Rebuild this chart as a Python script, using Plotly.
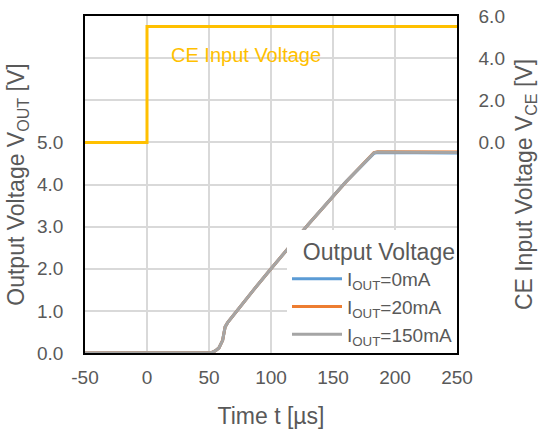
import plotly.graph_objects as go

# ---- data ----
t_out = [-50, 50, 52, 55, 58, 61, 63, 65, 75, 86, 100, 130, 160, 183, 186, 200, 250]
v_0mA = [0, 0, 0.01, 0.05, 0.12, 0.3, 0.62, 0.72, 1.1, 1.5, 2.0, 3.05, 4.05, 4.74, 4.76, 4.76, 4.75]
v_20mA = [0, 0, 0.01, 0.05, 0.12, 0.3, 0.62, 0.72, 1.1, 1.5, 2.0, 3.05, 4.05, 4.76, 4.78, 4.78, 4.77]
v_150mA = [0, 0, 0.01, 0.05, 0.12, 0.3, 0.62, 0.72, 1.1, 1.5, 2.0, 3.05, 4.05, 4.75, 4.77, 4.77, 4.76]
t_ce = [-50, 0, 0, 250]
v_ce = [0, 0, 5.5, 5.5]

x_ticks = [-50, 0, 50, 100, 150, 200, 250]
x_ticktext = ["-50", "0", "50", "100", "150", "200", "250"]
y_ticks = [0, 1, 2, 3, 4, 5, 6, 7, 8]
y_ticktext = ["0.0", "1.0", "2.0", "3.0", "4.0", "5.0", "", "", ""]
y2_ticks = [0, 2, 4, 6]
y2_ticktext = ["0.0", "2.0", "4.0", "6.0"]

FONT = "Liberation Sans, Arial, sans-serif"
GRAY = "#595959"

fig = go.Figure()
fig.add_trace(go.Scatter(x=t_ce, y=v_ce, yaxis="y2", mode="lines",
                         line=dict(color="#FFC000", width=3), showlegend=False,
                         name="CE Input Voltage"))
fig.add_trace(go.Scatter(x=t_out, y=v_0mA, mode="lines", name="I<sub>OUT</sub>=0mA",
                         line=dict(color="#5B9BD5", width=3)))
fig.add_trace(go.Scatter(x=t_out, y=v_20mA, mode="lines", name="I<sub>OUT</sub>=20mA",
                         line=dict(color="#ED7D31", width=3)))
fig.add_trace(go.Scatter(x=t_out, y=v_150mA, mode="lines", name="I<sub>OUT</sub>=150mA",
                         line=dict(color="#A5A5A5", width=3)))

fig.add_annotation(x=17.5, y=4.13, yref="y2", xref="x", text="CE Input Voltage",
                   showarrow=False, xanchor="left", yanchor="middle",
                   font=dict(color="#FFC000", size=20, family=FONT))

fig.update_layout(
    width=540, height=429,
    margin=dict(l=85, r=83, t=16, b=76),
    paper_bgcolor="white", plot_bgcolor="white",
    font=dict(family=FONT, size=19, color=GRAY),
    xaxis=dict(range=[-50, 250], tickvals=x_ticks, ticktext=x_ticktext, ticks="",
               showgrid=True, automargin=False,
               gridcolor="#D9D9D9", gridwidth=1.5, zeroline=False,
               showline=True, linecolor="black", linewidth=1.5, mirror=True,
               ticklabelstandoff=6,
               title=dict(text="Time t [µs]", standoff=21)),
    yaxis=dict(range=[0, 8], tickvals=y_ticks, ticktext=y_ticktext, ticks="",
               showgrid=True, automargin=False,
               gridcolor="#D9D9D9", gridwidth=1.5, zeroline=False,
               showline=True, linecolor="black", linewidth=1.5, mirror=True,
               ticklabelstandoff=16,
               title=dict(text="Output Voltage V<sub>OUT</sub> [V]", standoff=6)),
    yaxis2=dict(range=[-10, 6], tickvals=y2_ticks, ticktext=y2_ticktext, ticks="",
                overlaying="y", side="right", showgrid=False, zeroline=False,
                automargin=False,
                showline=True, linecolor="black", linewidth=1.5,
                ticklabelstandoff=16,
                title=dict(text="CE Input Voltage V<sub>CE</sub> [V]", standoff=12)),
    legend=dict(x=1, xanchor="right", y=0, yanchor="bottom", bgcolor="white",
                title=dict(text="Output Voltage", side="top right"),
                itemwidth=50, tracegroupgap=0,
                font=dict(size=19, color=GRAY)),
)

fig.write_html("out.html", config={"displayModeBar": False},
               post_script="document.body.style.margin='0';")
